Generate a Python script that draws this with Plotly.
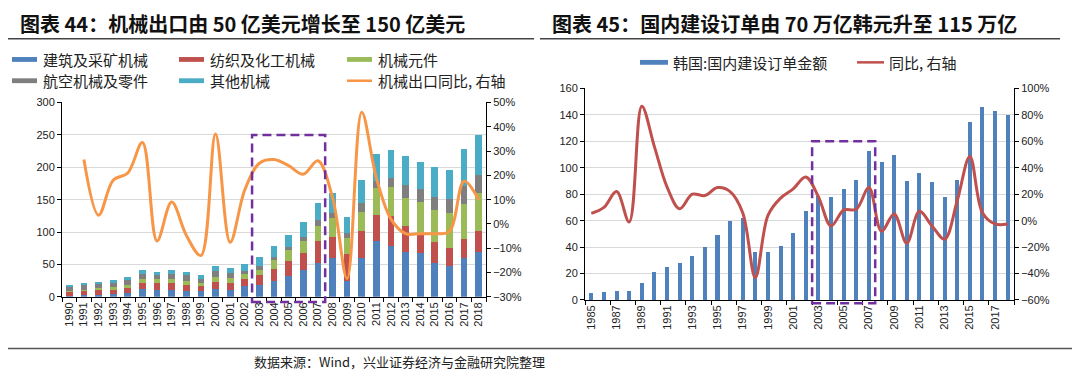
import plotly.graph_objects as go

# ---------------- Left chart data (亿美元 / 同比) ----------------
years_l = [str(y) for y in range(1990, 2019)]
construction = [2, 2.5, 3, 4, 6, 12, 10, 11, 9, 9, 12, 11, 16.7, 19, 24, 32, 42, 53, 60.6, 25,
                60.6, 86, 79, 69, 68, 53, 47, 60, 69]
textile = [5, 6, 7, 7, 8, 10, 12, 10, 9, 7, 11, 10, 10.3, 14, 19, 23, 25, 32.5, 32.4, 41,
           40.4, 40, 46, 41, 30, 31, 29, 29, 32.6]
components = [2, 2.5, 3, 4, 5, 6, 6, 7, 7, 6, 8, 8, 8.6, 9, 14, 17, 18.5, 23.5, 28, 25,
              30, 42, 45, 43, 48, 50, 54, 55, 58]
aviation = [6, 7, 6.5, 7, 7, 7.5, 6, 8, 9, 6, 9, 8, 4.4, 5, 4, 5, 7.5, 9, 8, 7,
            14, 11, 14, 20, 20, 20, 21, 27.6, 28.4]
others = [1.5, 3, 3, 4, 5, 5.5, 5, 6, 5, 6, 8, 7, 10, 15, 17, 19, 22, 27, 32, 26,
          35, 42, 43, 44, 42, 46, 44.5, 56.4, 62]
yoy_l = [None, 0.265, 0.036, 0.18, 0.21, 0.335, -0.07, 0.09, -0.046, -0.13, 0.37, -0.075, 0.14,
         0.25, 0.265, 0.24, 0.205, 0.26, 0.11, -0.225, 0.46, 0.19, 0.02, -0.04, -0.04, -0.04,
         -0.03, 0.176, 0.10]

# ---------------- Right chart data (万亿韩元 / 同比) ----------------
years_r = [str(y) for y in range(1985, 2019)]
orders = [5, 6, 7, 7, 13, 21, 25, 28, 33, 40, 49, 60, 62, 36, 36, 41, 51, 67, 79, 77.7,
          83.6, 91, 112.5, 104, 109.5, 90, 96, 89, 78, 91, 134.7, 146, 143, 140]
yoy_r = [0.055, 0.10, 0.22, -0.01, 0.866, 0.56, 0.256, 0.09, 0.20, 0.19, 0.25, 0.22, 0.06,
         -0.43, 0.04, 0.17, 0.24, 0.33, 0.18, -0.04, 0.08, 0.086, 0.25, -0.08, 0.05, -0.17,
         0.07, -0.04, -0.14, 0.15, 0.486, 0.06, -0.025, -0.025]

# ---------------- Labels ----------------
title_l = "图表 44：机械出口由 50 亿美元增长至 150 亿美元"
title_r = "图表 45：国内建设订单由 70 万亿韩元升至 115 万亿"
names_l = ["建筑及采矿机械", "纺织及化工机械", "机械元件", "航空机械及零件", "其他机械", "机械出口同比, 右轴"]
names_r = ["韩国:国内建设订单金额", "同比, 右轴"]
source = "数据来源：Wind，兴业证券经济与金融研究院整理"

colors_l = ["#4F81BD", "#C0504D", "#9BBB59", "#7F7F7F", "#4BACC6", "#F79646"]
bar_r_color = "#4F81BD"
line_r_color = "#C0504D"
box_color = "#7030A0"

OFF = 8  # default page body margin around the plot div
W, H = 1080 - 2 * OFF, 380 - 2 * OFF
TICKFONT = dict(family="Liberation Sans, Arial, sans-serif", size=11, color="#222")
CJK = "Noto Sans CJK SC"

fig = go.Figure()

series_l = [construction, textile, components, aviation, others]
for vals, nm, col in zip(series_l, names_l[:5], colors_l[:5]):
    fig.add_trace(go.Bar(x=years_l, y=vals, name=nm, marker=dict(color=col, line=dict(width=0)),
                         width=0.46, xaxis="x", yaxis="y", showlegend=False))
fig.add_trace(go.Scatter(x=years_l, y=yoy_l, mode="lines", name=names_l[5],
                         line=dict(color=colors_l[5], width=3, shape="spline", smoothing=1.0),
                         xaxis="x", yaxis="y2", showlegend=False))

fig.add_trace(go.Bar(x=years_r, y=orders, name=names_r[0], marker=dict(color=bar_r_color, line=dict(width=0)),
                     width=0.32, xaxis="x2", yaxis="y3", showlegend=False))
fig.add_trace(go.Scatter(x=years_r, y=yoy_r, mode="lines", name=names_r[1],
                         line=dict(color=line_r_color, width=3, shape="spline", smoothing=1.0),
                         xaxis="x2", yaxis="y4", showlegend=False))

def px_x(p):
    return (p - OFF) / W

def px_y(p):
    return 1 - (p - OFF) / H

axis_common = dict(showline=True, linecolor="#000", linewidth=1, ticks="outside", ticklen=4,
                   tickcolor="#000", tickfont=TICKFONT, zeroline=False)

fig.update_layout(
    width=W, height=H, margin=dict(l=0, r=0, t=0, b=0),
    paper_bgcolor="white", plot_bgcolor="white", barmode="stack",
    xaxis=dict(domain=[px_x(62), px_x(486)], anchor="y", type="category", range=[-0.5, len(years_l) - 0.5],
               tickangle=-90, tickson="boundaries", showgrid=False, **axis_common),
    yaxis=dict(domain=[px_y(300.5), px_y(99.5)], anchor="x", range=[0, 300], dtick=50,
               showgrid=True, gridcolor="#D9D9D9", gridwidth=1, **axis_common),
    yaxis2=dict(overlaying="y", anchor="x", side="right", range=[-0.3, 0.5], dtick=0.1,
                tickformat=".0%", showgrid=False, **axis_common),
    xaxis2=dict(domain=[px_x(585), px_x(1014)], anchor="y3", type="category", range=[-0.5, len(years_r) - 0.5],
                tickangle=-90, tickson="boundaries", dtick=2, showgrid=False, **axis_common),
    yaxis3=dict(domain=[px_y(303.7), px_y(85)], anchor="x2", range=[0, 160], dtick=20,
                showgrid=True, gridcolor="#D9D9D9", gridwidth=1, **axis_common),
    yaxis4=dict(overlaying="y3", anchor="x2", side="right", range=[-0.6, 1.0], dtick=0.2,
                tickformat=".0%", showgrid=False, **axis_common),
)

shapes = []
annotations = []

# dashed highlight boxes (domain fractions derived from category index and y ranges)
def box(xref, yref, n, i0, i1, ymin, ymax, y0, y1):
    return dict(type="rect", xref=xref + " domain", yref=yref + " domain",
                x0=(i0 + 0.5) / n, x1=(i1 + 0.5) / n,
                y0=(y0 - ymin) / (ymax - ymin), y1=(y1 - ymin) / (ymax - ymin),
                line=dict(color=box_color, width=2.5, dash="9px,5px"), fillcolor="rgba(0,0,0,0)", layer="above")

shapes.append(box("x", "y", len(years_l), years_l.index("2002") + 0.5, years_l.index("2007") + 0.5, 0, 300, -8, 250))
shapes.append(box("x2", "y3", len(years_r), years_r.index("2002") + 0.5, years_r.index("2007") + 0.5, 0, 160, -2.5, 120))

# titles and rules
TITLEFONT = dict(family=CJK, size=20, color="#111", weight="bold")
annotations.append(dict(text=title_l, x=px_x(18), y=px_y(18), xref="paper", yref="paper", xanchor="left",
                        yanchor="middle", showarrow=False, font=TITLEFONT))
annotations.append(dict(text=title_r, x=px_x(550), y=px_y(18), xref="paper", yref="paper", xanchor="left",
                        yanchor="middle", showarrow=False, font=TITLEFONT))
shapes.append(dict(type="line", xref="paper", yref="paper", x0=px_x(8), x1=px_x(534), y0=px_y(33.5), y1=px_y(33.5),
                   line=dict(color="#444", width=1.5)))
shapes.append(dict(type="line", xref="paper", yref="paper", x0=px_x(540), x1=px_x(1060), y0=px_y(33.5), y1=px_y(33.5),
                   line=dict(color="#444", width=1.5)))
shapes.append(dict(type="line", xref="paper", yref="paper", x0=0, x1=1, y0=px_y(354), y1=px_y(354),
                   line=dict(color="#555", width=1.5)))
annotations.append(dict(text=source, x=px_x(252), y=px_y(367), xref="paper", yref="paper", xanchor="left",
                        yanchor="middle", showarrow=False, font=dict(family=CJK, size=13, color="#222")))

# manual legends
LEGFONT = dict(family=CJK, size=15, color="#222")
leg_pos_l = [(12, 55), (179, 55), (347, 55), (12, 77), (179, 77), (347, 77)]
for k, (nm, col, (lx, ly)) in enumerate(zip(names_l, colors_l, leg_pos_l)):
    if k < 5:
        shapes.append(dict(type="rect", xref="paper", yref="paper", x0=px_x(lx), x1=px_x(lx + 25),
                           y0=px_y(ly + 2.5), y1=px_y(ly - 2.5), fillcolor=col, line=dict(width=0)))
    else:
        shapes.append(dict(type="line", xref="paper", yref="paper", x0=px_x(lx), x1=px_x(lx + 25),
                           y0=px_y(ly), y1=px_y(ly), line=dict(color=col, width=2.5)))
    annotations.append(dict(text=nm, x=px_x(lx + 29), y=px_y(ly), xref="paper", yref="paper", xanchor="left",
                            yanchor="middle", showarrow=False, font=LEGFONT))

shapes.append(dict(type="rect", xref="paper", yref="paper", x0=px_x(640), x1=px_x(668),
                   y0=px_y(60.5), y1=px_y(55.5), fillcolor=bar_r_color, line=dict(width=0)))
annotations.append(dict(text=names_r[0], x=px_x(671), y=px_y(58), xref="paper", yref="paper", xanchor="left",
                        yanchor="middle", showarrow=False, font=LEGFONT))
shapes.append(dict(type="line", xref="paper", yref="paper", x0=px_x(857), x1=px_x(884),
                   y0=px_y(58), y1=px_y(58), line=dict(color=line_r_color, width=2.5)))
annotations.append(dict(text=names_r[1], x=px_x(887), y=px_y(58), xref="paper", yref="paper", xanchor="left",
                        yanchor="middle", showarrow=False, font=LEGFONT))

fig.update_layout(shapes=shapes, annotations=annotations)
fig.write_html("out.html")
